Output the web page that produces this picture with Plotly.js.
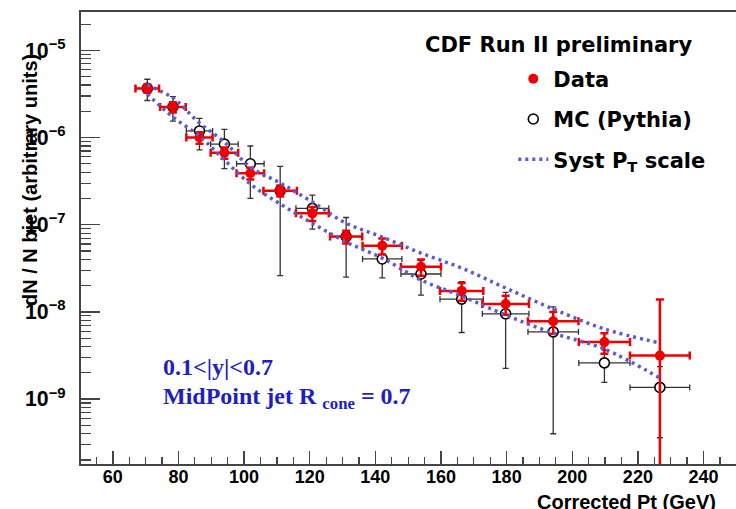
<!DOCTYPE html>
<html><head><meta charset="utf-8">
<script src="https://cdn.plot.ly/plotly-3.0.1.min.js"></script>
<style>html,body{margin:0;padding:0;background:#fff}#chart{width:736px;height:509px}</style>
</head><body><div id="chart"></div>
<script>
// Corrected Pt bin centres (GeV) and half bin widths
const ptCenters = [70.5, 78.3, 86.4, 94.0, 101.9, 111.0, 120.8, 131.1, 142.1, 153.9, 166.3, 179.7, 194.2, 209.8, 226.7];
const ptHalfWidth = [3.6, 3.9, 4.0, 4.2, 4.2, 5.1, 5.0, 4.9, 6.0, 6.1, 6.6, 7.1, 7.7, 7.8, 9.1];

// Data
const dataY   = [3.66e-6, 2.24e-6, 1.0e-6, 6.7e-7, 3.9e-7, 2.46e-7, 1.35e-7, 7.3e-8, 5.75e-8, 3.3e-8, 1.74e-8, 1.23e-8, 7.8e-9, 4.5e-9, 3.15e-9];
const dataErr = [0.4e-6, 0.3e-6, 0.15e-6, 1.0e-7, 0.6e-7, 0.35e-7, 0.25e-7, 1.2e-8, 1.2e-8, 0.7e-8, 0.4e-8, 0.3e-8, 2.2e-9, 1.2e-9, 1.07e-8];

// MC (Pythia)
const mcY   = [3.66e-6, 2.24e-6, 1.19e-6, 8.4e-7, 5.0e-7, 2.46e-7, 1.54e-7, 7.3e-8, 4.05e-8, 2.72e-8, 1.40e-8, 9.5e-9, 5.9e-9, 2.6e-9, 1.36e-9];
const mcErr = [1.0e-6, 0.7e-6, 0.47e-6, 4.0e-7, 3.0e-7, 2.2e-7, 0.65e-7, 4.8e-8, 1.6e-8, 1.16e-8, 8.2e-9, 7.25e-9, 5.5e-9, 1.05e-9, 1.0e-9];

// Systematic Pt-scale band
const systUp  = [4.00e-6, 2.84e-6, 1.47e-6, 8.87e-7, 4.59e-7, 3.01e-7, 1.82e-7, 1.04e-7, 7.22e-8, 4.73e-8, 3.18e-8, 1.88e-8, 1.08e-8, 6.37e-9, 4.40e-9];
const systLow = [3.15e-6, 1.72e-6, 1.04e-6, 5.52e-7, 2.93e-7, 1.73e-7, 1.04e-7, 6.33e-8, 4.14e-8, 2.32e-8, 1.52e-8, 9.20e-9, 5.71e-9, 3.75e-9, 1.74e-9];

const sansB = "Liberation Sans, Arial, sans-serif";
const legendFont = "DejaVu Sans, sans-serif";
const serif = "Liberation Serif, Times New Roman, serif";
const systColor = "#5a5ad2";
const axisColor = "#444";
const blueText = "#1e1ec4";

const traces = [
  {
    x: ptCenters, y: mcY, type: 'scatter', mode: 'markers', name: 'MC (Pythia)',
    legendgroup: 'mc', legendrank: 2,
    marker: {symbol: 'circle', size: 10, color: 'white', line: {color: 'black', width: 1.6}},
    error_y: {type: 'data', array: mcErr, color: '#333', thickness: 1.3, width: 3},
    error_x: {type: 'data', array: ptHalfWidth, color: '#333', thickness: 1.3, width: 3}
  },
  {
    x: ptCenters, y: dataY, type: 'scatter', mode: 'markers', name: 'Data',
    legendgroup: 'data', legendrank: 1,
    marker: {symbol: 'circle', size: 10, color: '#ee0000'},
    error_y: {type: 'data', array: dataErr, color: '#ee0000', thickness: 2.5, width: 4},
    error_x: {type: 'data', array: ptHalfWidth, color: '#ee0000', thickness: 2.5, width: 4}
  },
  {
    x: ptCenters, y: systUp, type: 'scatter', mode: 'lines', name: 'Syst P<sub>T</sub> scale',
    legendgroup: 'syst', legendrank: 3,
    line: {color: systColor, width: 3.5, dash: '3px,4px', shape: 'spline'}
  },
  {
    x: ptCenters, y: systLow, type: 'scatter', mode: 'lines', name: 'Syst low',
    legendgroup: 'syst', showlegend: false,
    line: {color: systColor, width: 3.5, dash: '3px,4px', shape: 'spline'}
  }
];

const layout = {
  width: 736, height: 509,
  margin: {l: 81, r: 0, t: 12, b: 45},
  paper_bgcolor: 'white', plot_bgcolor: 'white',
  showlegend: true,
  legend: {
    x: 0.66, y: 0.897, xanchor: 'left', yanchor: 'top',
    bgcolor: 'rgba(0,0,0,0)', traceorder: 'grouped', tracegroupgap: 10,
    font: {family: legendFont, size: 21, color: 'black', weight: 'bold'}
  },
  xaxis: {
    range: [50.3, 249.9], showgrid: false, zeroline: false,
    showline: true, linecolor: axisColor, linewidth: 2, mirror: true,
    dtick: 20, tick0: 0, ticks: 'inside', ticklen: 13, tickwidth: 1.5, tickcolor: axisColor,
    minor: {dtick: 5, ticks: 'inside', ticklen: 7, tickwidth: 1.2, tickcolor: axisColor},
    tickfont: {family: sansB, size: 18, color: 'black', weight: 'bold'},
    ticklabelstandoff: -5
  },
  yaxis: {
    type: 'log', range: [-9.745, -4.56], showgrid: false, zeroline: false,
    showline: true, linecolor: axisColor, linewidth: 2,
    dtick: 1, exponentformat: 'power', showexponent: 'all',
    ticks: 'inside', ticklen: 19, tickwidth: 1.5, tickcolor: axisColor,
    minor: {dtick: 'D1', ticks: 'inside', ticklen: 10, tickwidth: 1.2, tickcolor: axisColor},
    tickfont: {family: sansB, size: 17, color: 'black', weight: 'bold'},
    ticklabelstandoff: 10
  },
  annotations: [
    {text: 'CDF Run II preliminary', xref: 'paper', yref: 'paper', x: 0.522, y: 0.927,
     xanchor: 'left', yanchor: 'middle', showarrow: false,
     font: {family: legendFont, size: 21, color: 'black', weight: 'bold'}},
    {text: '0.1<|y|<0.7', xref: 'paper', yref: 'paper', x: 0.122, y: 0.2146,
     xanchor: 'left', yanchor: 'middle', showarrow: false,
     font: {family: serif, size: 24, color: blueText, weight: 'bold'}},
    {text: 'MidPoint jet R <sub>cone</sub> = 0.7', xref: 'paper', yref: 'paper', x: 0.122, y: 0.146,
     xanchor: 'left', yanchor: 'middle', showarrow: false,
     font: {family: serif, size: 24, color: blueText, weight: 'bold'}},
    {text: 'dN / N bjet (arbitrary units)', xref: 'paper', yref: 'paper', x: -0.078, y: 0.628,
     xanchor: 'center', yanchor: 'middle', textangle: -90, showarrow: false,
     font: {family: sansB, size: 20, color: 'black', weight: 'bold'}},
    {text: 'Corrected Pt (GeV)', xref: 'paper', yref: 'paper', x: 0.9725, y: -0.084,
     xanchor: 'right', yanchor: 'middle', showarrow: false,
     font: {family: sansB, size: 20, color: 'black', weight: 'bold'}}
  ]
};

Plotly.newPlot('chart', traces, layout, {displayModeBar: false, staticPlot: true});
</script>
</body></html>
